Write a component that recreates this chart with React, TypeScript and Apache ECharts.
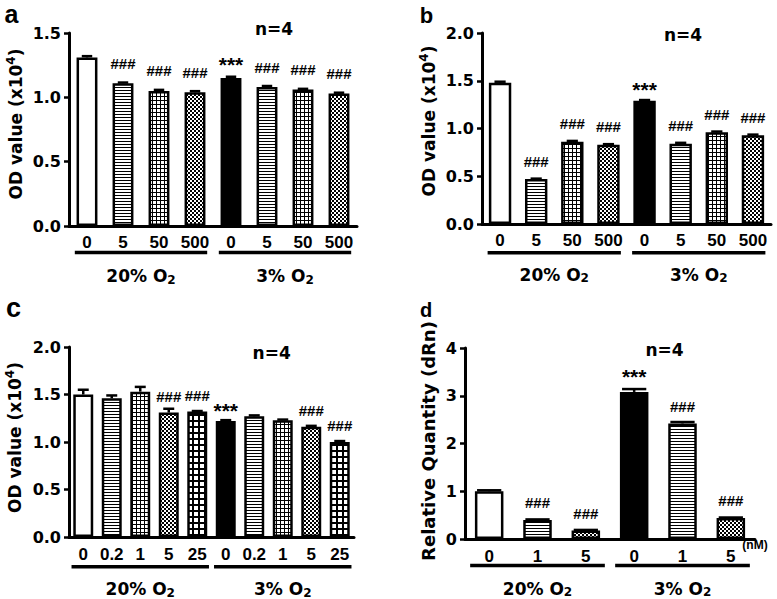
import React, { useEffect, useRef } from 'react';
import * as echarts from 'echarts';

// ---------- data ----------
const catsA = ['0', '5', '50', '500', '0', '5', '50', '500'];
const valsA = [1.31, 1.11, 1.05, 1.04, 1.15, 1.08, 1.06, 1.03];
const errsA = [0.01, 0.005, 0.008, 0.008, 0.01, 0.008, 0.006, 0.006];
const patsA = ['white', 'hlines', 'grid', 'checker', 'black', 'hlines', 'grid', 'checker'];
const sigsA = ['', '###', '###', '###', '***', '###', '###', '###'];

const catsB = ['0', '5', '50', '500', '0', '5', '50', '500'];
const valsB = [1.48, 0.47, 0.86, 0.83, 1.29, 0.84, 0.96, 0.93];
const errsB = [0.01, 0.005, 0.01, 0.006, 0.008, 0.01, 0.008, 0.006];
const patsB = ['white', 'hlines', 'grid', 'checker', 'black', 'hlines', 'grid', 'checker'];
const sigsB = ['', '###', '###', '###', '***', '###', '###', '###'];

const catsC = ['0', '0.2', '1', '5', '25', '0', '0.2', '1', '5', '25'];
const valsC = [1.5, 1.46, 1.53, 1.31, 1.32, 1.22, 1.27, 1.23, 1.16, 1.0];
const errsC = [0.05, 0.03, 0.05, 0.04, 0.006, 0.01, 0.01, 0.006, 0.01, 0.01];
const patsC = ['white', 'hlines', 'grid', 'checker', 'coarse', 'black', 'hlines', 'grid', 'checker', 'coarse'];
const sigsC = ['', '', '', '###', '###', '***', '', '', '###', '###'];

const catsD = ['0', '1', '5', '0', '1', '5'];
const valsD = [1.0, 0.4, 0.18, 3.08, 2.42, 0.44];
const errsD = [0.02, 0.01, 0.01, 0.06, 0.03, 0.01];
const patsD = ['white', 'hlines', 'checker', 'black', 'hlines', 'checker'];
const sigsD = ['', '###', '###', '***', '###', '###'];

const groupNames = ['20% O', '3% O'];
const groupsA = [[0, 3], [4, 7]];
const groupsB = [[0, 3], [4, 7]];
const groupsC = [[0, 4], [5, 9]];
const groupsD = [[0, 2], [3, 5]];

const panelLetters = ['a', 'b', 'c', 'd'];
const nText = 'n=4';
const titleOD = 'OD value (x10{sup|4})';
const titleRQ = 'Relative Quantity (dRn)';
const unitD = '(nM)';

// ---------- style ----------
const DJ = 'DejaVu Sans';
const AR = 'Liberation Sans';

function makePattern(kind: string): any {
  if (kind === 'white') return '#ffffff';
  if (kind === 'black') return '#000000';
  const c = document.createElement('canvas');
  let w = 4, h = 4;
  if (kind === 'hlines') { w = 4; h = 3; }
  else if (kind === 'grid') { w = 4; h = 4; }
  else if (kind === 'checker') { w = 4; h = 4; }
  else if (kind === 'coarse') { w = 6; h = 6; }
  c.width = w; c.height = h;
  const ctx = c.getContext('2d')!;
  ctx.fillStyle = '#fff';
  ctx.fillRect(0, 0, w, h);
  ctx.fillStyle = '#000';
  if (kind === 'hlines') ctx.fillRect(0, 0, w, 1);
  else if (kind === 'grid') { ctx.fillRect(0, 0, w, 1); ctx.fillRect(0, 0, 1, h); }
  else if (kind === 'checker') { ctx.fillRect(0, 0, 2, 2); ctx.fillRect(2, 2, 2, 2); }
  else if (kind === 'coarse') { ctx.fillRect(0, 0, w, 2); ctx.fillRect(0, 0, 2, h); }
  return { image: c, repeat: 'repeat', imageWidth: w, imageHeight: h };
}

const panels = [
  {
    cats: catsA, vals: valsA, errs: errsA, pats: patsA, sigs: sigsA, groups: groupsA,
    grid: { left: 69, top: 33, width: 288, height: 193 }, max: 1.5, interval: 0.5, dec: 1,
    barFrac: 0.58, capFrac: 0.5, hashDist: 12.5, starDist: 3, labelMargin: 8,
    lineOff: 26.5, textOff: 50.3, lineExt: 0.5,
    letter: { x: 11.5, y: 13.5, size: 25 }, n: { x: 274, y: 29.2 },
    title: { text: titleOD, x: 15.5, y: 124 },
  },
  {
    cats: catsB, vals: valsB, errs: errsB, pats: patsB, sigs: sigsB, groups: groupsB,
    grid: { left: 482, top: 33, width: 289, height: 191 }, max: 2.0, interval: 0.5, dec: 1,
    barFrac: 0.62, capFrac: 0.5, hashDist: 10.5, starDist: 1, labelMargin: 8,
    lineOff: 28.7, textOff: 50.7, lineExt: 0,
    letter: { x: 426.5, y: 15.5, size: 22 }, n: { x: 683, y: 35 },
    title: { text: titleOD, x: 428.5, y: 121 },
  },
  {
    cats: catsC, vals: valsC, errs: errsC, pats: patsC, sigs: sigsC, groups: groupsC,
    grid: { left: 69, top: 347, width: 285, height: 190 }, max: 2.0, interval: 0.5, dec: 1,
    barFrac: 0.7, capFrac: 0.55, hashDist: 9, starDist: 0, labelMargin: 9,
    lineOff: 29.7, textOff: 52.3, lineExt: 0.5,
    letter: { x: 13.5, y: 307.5, size: 27 }, n: { x: 271.7, y: 353.3 },
    title: { text: titleOD, x: 14.5, y: 437.5 },
  },
  {
    cats: catsD, vals: valsD, errs: errsD, pats: patsD, sigs: sigsD, groups: groupsD,
    grid: { left: 465, top: 348, width: 290, height: 191 }, max: 4, interval: 1, dec: 0,
    barFrac: 0.59, capFrac: 0.85, hashDist: 9.5, starDist: 5, labelMargin: 9,
    lineOff: 26.4, textOff: 49.7, lineExt: 3.5,
    letter: { x: 426, y: 310, size: 20 }, n: { x: 664.5, y: 350 },
    title: { text: titleRQ, x: 428, y: 441 },
  },
];

export default function App() {
  const ref = useRef<HTMLDivElement>(null);

  useEffect(() => {
    if (!ref.current) return;
    const chart = echarts.init(ref.current, undefined, { renderer: 'svg' });

    const grids: any[] = [];
    const xAxes: any[] = [];
    const yAxes: any[] = [];
    const series: any[] = [];
    const graphics: any[] = [];

    panels.forEach((p, gi) => {
      grids.push({ ...p.grid, containLabel: false });
      xAxes.push({
        type: 'category', gridIndex: gi, data: p.cats,
        axisLine: { lineStyle: { color: '#000', width: 3 } },
        axisTick: { show: false },
        axisLabel: {
          color: '#000', fontFamily: AR, fontWeight: 'bold', fontSize: 17,
          margin: p.labelMargin, interval: 0,
        },
      });
      yAxes.push({
        type: 'value', gridIndex: gi, min: 0, max: p.max, interval: p.interval,
        axisLine: { show: true, lineStyle: { color: '#000', width: 3 } },
        axisTick: { show: true, length: 5, lineStyle: { color: '#000', width: 2.5 } },
        splitLine: { show: false },
        axisLabel: {
          color: '#000', fontFamily: DJ, fontWeight: 'bold', fontSize: 16, margin: 8,
          formatter: (v: number) => v.toFixed(p.dec),
        },
      });

      series.push({
        type: 'bar', xAxisIndex: gi, yAxisIndex: gi,
        barWidth: `${p.barFrac * 100}%`,
        z: 2,
        data: p.vals.map((v, k) => {
          const sig = p.sigs[k];
          const star = sig === '***';
          return {
            value: v,
            itemStyle: { color: makePattern(p.pats[k]), borderColor: '#000', borderWidth: 2.5 },
            label: sig
              ? {
                  show: true, position: 'top', formatter: sig,
                  distance: star ? p.starDist : p.hashDist,
                  fontSize: star ? 21 : 15, fontFamily: AR, fontWeight: 'bold', color: '#000',
                }
              : { show: false },
          };
        }),
      });

      series.push({
        type: 'custom', xAxisIndex: gi, yAxisIndex: gi, z: 3, silent: true, clip: false,
        data: p.vals.map((v, k) => [k, v, p.errs[k]]),
        renderItem: (params: any, api: any) => {
          const i = api.value(0), v = api.value(1), e = api.value(2);
          const base = api.coord([i, v]);
          const top = api.coord([i, v + e]);
          const band = api.size([1, 0])[0];
          const cw = (band * p.barFrac * p.capFrac) / 2;
          return {
            type: 'group',
            children: [
              { type: 'line', shape: { x1: base[0], y1: base[1], x2: top[0], y2: top[1] }, style: { stroke: '#000', lineWidth: 2.5 } },
              { type: 'line', shape: { x1: top[0] - cw, y1: top[1], x2: top[0] + cw, y2: top[1] }, style: { stroke: '#000', lineWidth: 2.5 } },
            ],
          };
        },
      });

      series.push({
        type: 'custom', xAxisIndex: gi, yAxisIndex: gi, z: 3, silent: true, clip: false,
        data: p.groups.map((g) => [g[0], g[1]]),
        renderItem: (params: any, api: any) => {
          const s = api.value(0), e = api.value(1);
          const band = api.size([1, 0])[0];
          const half = (band * p.barFrac) / 2 + 1.25 + p.lineExt;
          const a = api.coord([s, 0]);
          const b = api.coord([e, 0]);
          const y0 = a[1];
          const x0 = a[0] - half, x1 = b[0] + half;
          return {
            type: 'group',
            children: [
              { type: 'line', shape: { x1: x0, y1: y0 + p.lineOff, x2: x1, y2: y0 + p.lineOff }, style: { stroke: '#000', lineWidth: 3.5 } },
              {
                type: 'text', x: (x0 + x1) / 2, y: y0 + p.textOff,
                style: {
                  text: groupNames[params.dataIndex] + '{sub|2}',
                  fill: '#000', fontFamily: DJ, fontWeight: 'bold', fontSize: 17,
                  align: 'center', verticalAlign: 'middle',
                  rich: { sub: { fontFamily: DJ, fontWeight: 'bold', fontSize: 12, padding: [7, 0, 0, 0], fill: '#000' } },
                },
              },
            ],
          };
        },
      });

      graphics.push({
        type: 'text', x: p.letter.x, y: p.letter.y,
        style: {
          text: panelLetters[gi], fill: '#000', fontFamily: AR, fontWeight: 'bold', fontSize: p.letter.size,
          align: 'center', verticalAlign: 'middle',
        },
      });
      graphics.push({
        type: 'text', x: p.n.x, y: p.n.y,
        style: {
          text: nText, fill: '#000', fontFamily: DJ, fontWeight: 'bold', fontSize: 17,
          align: 'center', verticalAlign: 'middle',
        },
      });
      graphics.push({
        type: 'text', x: p.title.x, y: p.title.y, rotation: Math.PI / 2,
        style: {
          text: p.title.text, fill: '#000', fontFamily: DJ, fontWeight: 'bold',
          fontSize: gi === 3 ? 18 : 17,
          align: 'center', verticalAlign: 'middle',
          rich: { sup: { fontFamily: DJ, fontWeight: 'bold', fontSize: 12, padding: [0, 0, 10, 0], fill: '#000' } },
        },
      });
    });

    graphics.push({
      type: 'text', x: 755, y: 545,
      style: {
        text: unitD, fill: '#000', fontFamily: AR, fontWeight: 'bold', fontSize: 12,
        align: 'center', verticalAlign: 'middle',
      },
    });

    chart.setOption({
      animation: false,
      backgroundColor: '#ffffff',
      grid: grids,
      xAxis: xAxes,
      yAxis: yAxes,
      series,
      graphic: graphics,
    });

    return () => chart.dispose();
  }, []);

  return (
    <div
      ref={ref}
      style={{ position: 'fixed', left: 0, top: 0, width: 777, height: 599, background: '#fff' }}
    />
  );
}
